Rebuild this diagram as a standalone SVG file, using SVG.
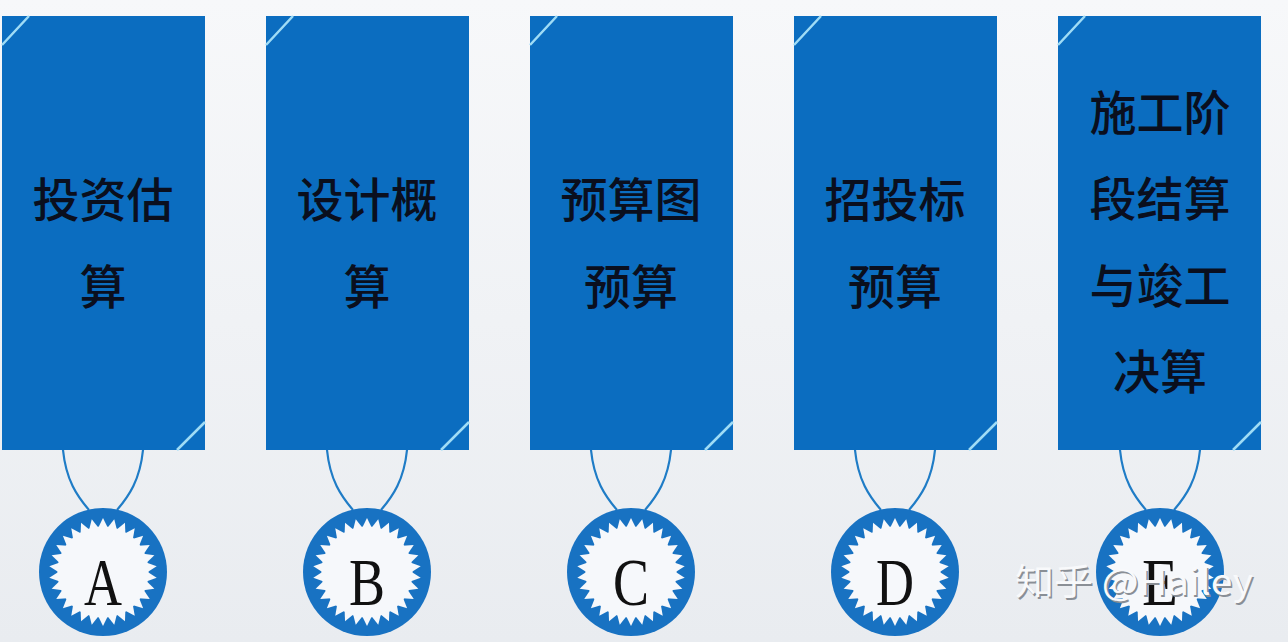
<svg xmlns="http://www.w3.org/2000/svg" xmlns:xlink="http://www.w3.org/1999/xlink" width="1288" height="642" viewBox="0 0 1288 642">
<style>
.card{fill:#0b6dc0;}
.corner{stroke:#9fdcf6;stroke-width:2.5;fill:none;}
.cord{stroke:#1f7cc6;stroke-width:2.2;fill:none;}
.ring{fill:#1872c2;}
.star{fill:#f6f8fb;}
.lbl{font-family:"Noto Sans CJK SC","Noto Sans",sans-serif;font-size:47px;font-weight:500;fill:#0a0f1e;text-anchor:middle;dominant-baseline:central;}
.let{font-family:"Liberation Serif",serif;font-size:68px;fill:#111;text-anchor:middle;}
.wm{font-family:"Noto Sans CJK SC","Noto Sans",sans-serif;font-size:36px;}
</style>
<defs>
<linearGradient id="bg" x1="0" y1="0" x2="0" y2="1">
<stop offset="0" stop-color="#f7f8fa"/>
<stop offset="1" stop-color="#e9ecf0"/>
</linearGradient>
<polygon id="tooth" points="-4.9,-44 0,-54 4.9,-44"/>
<g id="medal">
<circle r="64" class="ring"/>
<g class="star">
<circle r="45.5"/>
<use xlink:href="#tooth"/><use xlink:href="#tooth" transform="rotate(12)"/><use xlink:href="#tooth" transform="rotate(24)"/><use xlink:href="#tooth" transform="rotate(36)"/><use xlink:href="#tooth" transform="rotate(48)"/><use xlink:href="#tooth" transform="rotate(60)"/><use xlink:href="#tooth" transform="rotate(72)"/><use xlink:href="#tooth" transform="rotate(84)"/><use xlink:href="#tooth" transform="rotate(96)"/><use xlink:href="#tooth" transform="rotate(108)"/><use xlink:href="#tooth" transform="rotate(120)"/><use xlink:href="#tooth" transform="rotate(132)"/><use xlink:href="#tooth" transform="rotate(144)"/><use xlink:href="#tooth" transform="rotate(156)"/><use xlink:href="#tooth" transform="rotate(168)"/><use xlink:href="#tooth" transform="rotate(180)"/><use xlink:href="#tooth" transform="rotate(192)"/><use xlink:href="#tooth" transform="rotate(204)"/><use xlink:href="#tooth" transform="rotate(216)"/><use xlink:href="#tooth" transform="rotate(228)"/><use xlink:href="#tooth" transform="rotate(240)"/><use xlink:href="#tooth" transform="rotate(252)"/><use xlink:href="#tooth" transform="rotate(264)"/><use xlink:href="#tooth" transform="rotate(276)"/><use xlink:href="#tooth" transform="rotate(288)"/><use xlink:href="#tooth" transform="rotate(300)"/><use xlink:href="#tooth" transform="rotate(312)"/><use xlink:href="#tooth" transform="rotate(324)"/><use xlink:href="#tooth" transform="rotate(336)"/><use xlink:href="#tooth" transform="rotate(348)"/>
</g>
</g>
<g id="cardshape">
<rect x="0" y="0" width="203" height="434" class="card"/>
<path d="M0,29 L27,0 M175,434 L203,406" class="corner"/>
</g>
<path id="cordshape" d="M-40,0 C-37,30 -26,46 -14,60 M40,0 C37,30 26,46 14,60" class="cord"/>
</defs>
<rect width="1288" height="642" fill="url(#bg)"/>
<g id="connectors">
<use xlink:href="#cordshape" x="103" y="450"/>
<use xlink:href="#cordshape" x="367" y="450"/>
<use xlink:href="#cordshape" x="631" y="450"/>
<use xlink:href="#cordshape" x="895" y="450"/>
<use xlink:href="#cordshape" x="1160" y="450"/>
</g>
<g id="node-A">
<use xlink:href="#cardshape" x="2" y="16"/>
<text class="lbl" x="103" y="196">投资估</text>
<text class="lbl" x="103" y="283">算</text>
<use xlink:href="#medal" x="103" y="572"/>
<text class="let" x="103" y="605" textLength="38" lengthAdjust="spacingAndGlyphs">A</text>
</g>
<g id="node-B">
<use xlink:href="#cardshape" x="266" y="16"/>
<text class="lbl" x="367" y="196">设计概</text>
<text class="lbl" x="367" y="283">算</text>
<use xlink:href="#medal" x="367" y="572"/>
<text class="let" x="367" y="605" textLength="36" lengthAdjust="spacingAndGlyphs">B</text>
</g>
<g id="node-C">
<use xlink:href="#cardshape" x="530" y="16"/>
<text class="lbl" x="631" y="196">预算图</text>
<text class="lbl" x="631" y="283">预算</text>
<use xlink:href="#medal" x="631" y="572"/>
<text class="let" x="631" y="605" textLength="36" lengthAdjust="spacingAndGlyphs">C</text>
</g>
<g id="node-D">
<use xlink:href="#cardshape" x="794" y="16"/>
<text class="lbl" x="895" y="196">招投标</text>
<text class="lbl" x="895" y="283">预算</text>
<use xlink:href="#medal" x="895" y="572"/>
<text class="let" x="895" y="605" textLength="38" lengthAdjust="spacingAndGlyphs">D</text>
</g>
<g id="node-E">
<use xlink:href="#cardshape" x="1058" y="16"/>
<text class="lbl" x="1160" y="109">施工阶</text>
<text class="lbl" x="1160" y="195">段结算</text>
<text class="lbl" x="1160" y="282">与竣工</text>
<text class="lbl" x="1160" y="368">决算</text>
<use xlink:href="#medal" x="1160" y="572"/>
<text class="let" x="1160" y="605" textLength="36" lengthAdjust="spacingAndGlyphs">E</text>
</g>
<g id="watermark">
<text class="wm" x="1015" y="595" textLength="238" lengthAdjust="spacingAndGlyphs" fill="#8a8f96" transform="translate(1.5,1.5)">知乎 @Hailey</text>
<text class="wm" x="1015" y="595" textLength="238" lengthAdjust="spacingAndGlyphs" fill="#f8f9fb">知乎 @Hailey</text>
</g>
</svg>
